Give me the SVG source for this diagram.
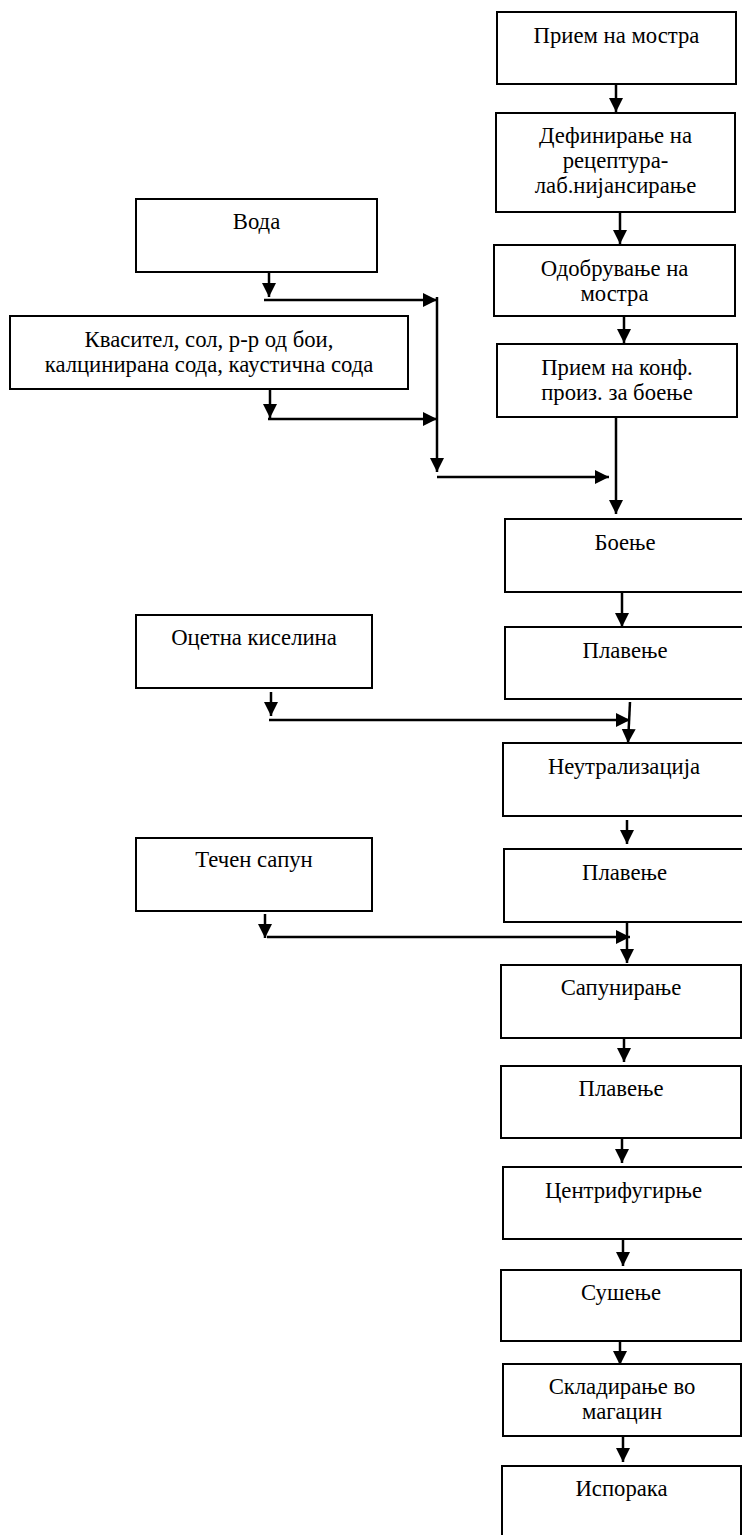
<svg xmlns="http://www.w3.org/2000/svg" width="742" height="1535" viewBox="0 0 742 1535">
<style>
.box{fill:#fff;stroke:#000;stroke-width:2}
.t{font-family:"Liberation Serif","Times New Roman",serif;font-size:22.7px;fill:#000;text-anchor:middle}
.c{fill:none;stroke:#000;stroke-width:2.5}
</style>
<defs>
<marker id="ah" markerUnits="userSpaceOnUse" markerWidth="15" markerHeight="15" refX="14" refY="7" orient="auto">
<path d="M0,0 L14,7 L0,14 z" fill="#000"/>
</marker>
</defs>
<rect width="742" height="1535" fill="#fff"/>
<g id="connectors">
<line class="c" x1="616" y1="84" x2="616" y2="112" marker-end="url(#ah)"/>
<line class="c" x1="620" y1="212" x2="620" y2="244" marker-end="url(#ah)"/>
<line class="c" x1="624" y1="316" x2="624" y2="343" marker-end="url(#ah)"/>
<line class="c" x1="616" y1="417" x2="616" y2="514" marker-end="url(#ah)"/>
<line class="c" x1="269" y1="272" x2="269" y2="297" marker-end="url(#ah)"/>
<line class="c" x1="264" y1="300" x2="437" y2="300" marker-end="url(#ah)"/>
<line class="c" x1="437" y1="297" x2="437" y2="472" marker-end="url(#ah)"/>
<line class="c" x1="270" y1="389" x2="270" y2="418" marker-end="url(#ah)"/>
<line class="c" x1="268" y1="419" x2="437" y2="419" marker-end="url(#ah)"/>
<line class="c" x1="437" y1="477" x2="609" y2="477" marker-end="url(#ah)"/>
<line class="c" x1="622" y1="592" x2="622" y2="627" marker-end="url(#ah)"/>
<line class="c" x1="630" y1="702" x2="628" y2="743" marker-end="url(#ah)"/>
<line class="c" x1="271" y1="692" x2="271" y2="716" marker-end="url(#ah)"/>
<line class="c" x1="269" y1="720" x2="630" y2="720" marker-end="url(#ah)"/>
<line class="c" x1="627" y1="820" x2="627" y2="844" marker-end="url(#ah)"/>
<line class="c" x1="265" y1="914" x2="265" y2="938" marker-end="url(#ah)"/>
<line class="c" x1="267" y1="937" x2="630" y2="937" marker-end="url(#ah)"/>
<line class="c" x1="627" y1="922" x2="627" y2="963" marker-end="url(#ah)"/>
<line class="c" x1="624" y1="1038" x2="624" y2="1062" marker-end="url(#ah)"/>
<line class="c" x1="622" y1="1138" x2="622" y2="1163" marker-end="url(#ah)"/>
<line class="c" x1="623" y1="1240" x2="623" y2="1266" marker-end="url(#ah)"/>
<line class="c" x1="620" y1="1341" x2="620" y2="1365" marker-end="url(#ah)"/>
<line class="c" x1="623" y1="1436" x2="623" y2="1462" marker-end="url(#ah)"/>
</g>
<g id="n1"><rect class="box" x="497" y="12" width="239" height="72"/><text class="t" x="616.5" y="43">Прием на мостра</text></g>
<g id="n2"><rect class="box" x="496" y="113" width="239" height="99"/><text class="t" x="615.5" y="143">Дефинирање на</text><text class="t" x="615.5" y="168">рецептура-</text><text class="t" x="615.5" y="193">лаб.нијансирање</text></g>
<g id="n3"><rect class="box" x="494" y="245" width="241" height="71"/><text class="t" x="614.5" y="276">Одобрување на</text><text class="t" x="614.5" y="301">мостра</text></g>
<g id="n4"><rect class="box" x="497" y="344" width="240" height="73"/><text class="t" x="617" y="375">Прием на конф.</text><text class="t" x="617" y="400">произ. за боење</text></g>
<g id="voda"><rect class="box" x="136" y="199" width="241" height="73"/><text class="t" x="256.5" y="229">Вода</text></g>
<g id="kvasitel"><rect class="box" x="10" y="316" width="398" height="73"/><text class="t" x="209" y="347">Квасител, сол, р-р од бои,</text><text class="t" x="209" y="372">калцинирана сода, каустична сода</text></g>
<g id="boenje"><rect class="box" x="505" y="519" width="240" height="73"/><text class="t" x="625" y="550">Боење</text></g>
<g id="plavenje1"><rect class="box" x="505" y="627" width="240" height="72"/><text class="t" x="625" y="658">Плавење</text></g>
<g id="ocetna"><rect class="box" x="136" y="615" width="236" height="73"/><text class="t" x="254" y="645">Оцетна киселина</text></g>
<g id="neutral"><rect class="box" x="503" y="743" width="242" height="73"/><text class="t" x="624" y="774">Неутрализација</text></g>
<g id="plavenje2"><rect class="box" x="504" y="849" width="241" height="73"/><text class="t" x="624.5" y="880">Плавење</text></g>
<g id="techen"><rect class="box" x="136" y="838" width="236" height="73"/><text class="t" x="254" y="867">Течен сапун</text></g>
<g id="sapun"><rect class="box" x="501" y="965" width="240" height="73"/><text class="t" x="621" y="995">Сапунирање</text></g>
<g id="plavenje3"><rect class="box" x="501" y="1066" width="240" height="72"/><text class="t" x="621" y="1096">Плавење</text></g>
<g id="centrif"><rect class="box" x="503" y="1167" width="241" height="72"/><text class="t" x="623.5" y="1198">Центрифугирње</text></g>
<g id="sushenje"><rect class="box" x="501" y="1270" width="240" height="71"/><text class="t" x="621" y="1300">Сушење</text></g>
<g id="skladiranje"><rect class="box" x="503" y="1364" width="238" height="72"/><text class="t" x="622" y="1394">Складирање во</text><text class="t" x="622" y="1419">магацин</text></g>
<g id="isporaka"><rect class="box" x="502" y="1466" width="239" height="80"/><text class="t" x="621.5" y="1496">Испорака</text></g>
</svg>
